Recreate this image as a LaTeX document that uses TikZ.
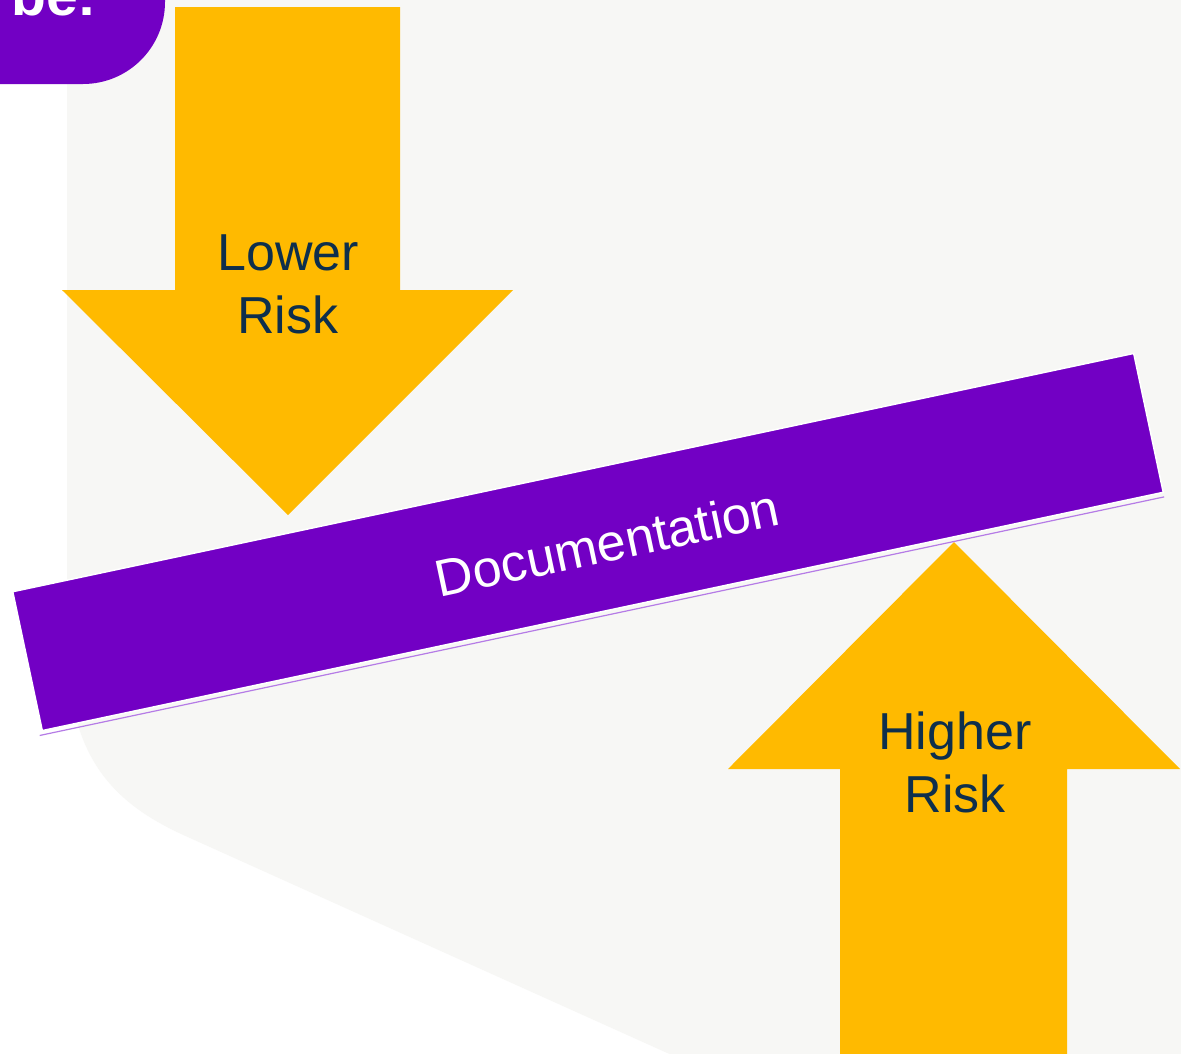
\documentclass[tikz,border=0pt]{standalone}
\usepackage{fontspec}
\setmainfont{Liberation Sans}
\definecolor{brand}{HTML}{7200C4}
\definecolor{gold}{HTML}{FFBA00}
\definecolor{navy}{HTML}{0E2F4C}
\definecolor{panel}{HTML}{F7F7F5}
\definecolor{lilac}{HTML}{B57BE6}
\begin{document}
\begin{tikzpicture}[x=1pt,y=-1pt,
  arrowbody/.style={fill=gold},
  risklabel/.style={text=navy, font=\fontsize{52}{63}\selectfont, align=center, inner sep=0},
  bar/.style={fill=brand, draw=white, line width=1.5pt, rotate=12,
              minimum width=1146pt, minimum height=142pt, inner sep=0},
  barlabel/.style={text=white, rotate=12, font=\fontsize{52}{60}\selectfont, inner sep=0}]
\useasboundingbox (0,0) rectangle (1181,1053);
\clip (0,0) rectangle (1181,1053);
\fill[white] (0,0) rectangle (1181,1053);

% light panel behind the content
\fill[panel] (67,-10) -- (1200,-10) -- (1200,1070) -- (705,1070) -- (190,838)
  .. controls (115,805) and (67,760) .. (67,640) -- cycle;

% heading tab in the top-left corner
\fill[brand, rounded corners=82pt] (-200,-200) rectangle (165,84);
\node[font=\fontsize{57}{60}\selectfont\bfseries, text=white, anchor=base west, inner sep=0] (tab) at (11,15) {be:};

% downward arrow
\fill[arrowbody] (175,7) -- (400,7) -- (400,290) -- (513,290) -- (288,515)
  -- (62,290) -- (175,290) -- cycle;
\node[risklabel] (lower) at (288,284) {Lower\\Risk};

% upward arrow
\fill[arrowbody] (954,542) -- (1180,769) -- (1067,769) -- (1067,1070)
  -- (840,1070) -- (840,769) -- (728,769) -- cycle;
\node[risklabel] (higher) at (955,762) {Higher\\Risk};

% tilted bar
\node[bar] (doc) at (588,542) {};
\draw[lilac, line width=1.2pt] ([shift={(-2,4)}]doc.south west) -- ([shift={(0,4)}]doc.south east);
\node[barlabel] (doclabel) at (607,543) {Documentation};
\end{tikzpicture}
\end{document}
